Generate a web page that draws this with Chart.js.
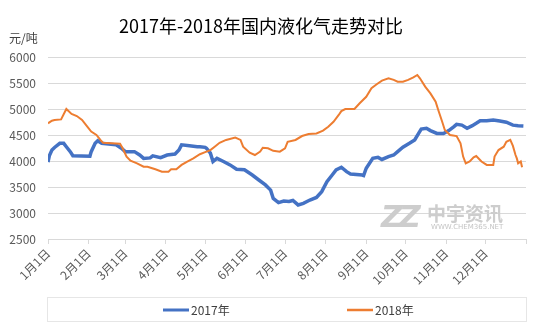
<!DOCTYPE html>
<html>
<head>
<meta charset="utf-8">
<script src="https://cdn.jsdelivr.net/npm/chart.js@4/dist/chart.umd.min.js"></script>
<style>
  html, body { margin: 0; padding: 0; background: #ffffff; }
  #wrap { position: relative; width: 554px; height: 332px; }
</style>
</head>
<body>
<div id="wrap"><canvas id="c" width="554" height="332"></canvas></div>
<script>
// LPG domestic price, yuan per tonne, sampled by day of year
const seriesNames = ['2017年', '2018年'];

const days2017 = [0, 1, 3, 5, 9, 12, 14, 17, 19, 32, 33, 36, 38, 41, 52, 56, 59, 66, 70, 73, 78, 80, 86, 91, 97, 100, 102, 108, 114, 116, 120, 121, 124, 126, 129, 134, 139, 144, 150, 156, 161, 166, 170, 172, 176, 180, 184, 187, 191, 195, 200, 205, 209, 213, 217, 220, 224, 228, 231, 240, 241, 243, 248, 252, 255, 260, 264, 267, 271, 276, 280, 283, 285, 289, 292, 297, 302, 306, 310, 312, 316, 320, 324, 327, 330, 335, 340, 345, 350, 355, 359, 363];
const price2017 = [3980, 4100, 4210, 4260, 4340, 4340, 4275, 4180, 4100, 4090, 4180, 4340, 4390, 4340, 4310, 4245, 4180, 4180, 4115, 4050, 4060, 4100, 4065, 4115, 4135, 4210, 4310, 4295, 4275, 4276, 4263, 4245, 4150, 3990, 4050, 3990, 3925, 3840, 3830, 3730, 3635, 3540, 3440, 3280, 3200, 3230, 3220, 3240, 3155, 3185, 3250, 3300, 3410, 3600, 3730, 3830, 3880, 3795, 3750, 3730, 3720, 3860, 4050, 4070, 4030, 4085, 4115, 4180, 4265, 4340, 4405, 4530, 4615, 4630, 4585, 4530, 4530, 4585, 4660, 4705, 4690, 4630, 4680, 4725, 4775, 4775, 4790, 4770, 4745, 4690, 4680, 4675];

const days2018 = [0, 3, 5, 10, 14, 18, 22, 26, 30, 33, 37, 40, 42, 55, 57, 60, 63, 68, 73, 76, 82, 87, 92, 94, 98, 102, 106, 111, 116, 120, 124, 128, 131, 136, 143, 147, 149, 154, 158, 162, 164, 168, 172, 177, 181, 183, 189, 194, 199, 205, 210, 214, 218, 222, 224, 227, 231, 234, 238, 243, 247, 251, 255, 260, 264, 267, 271, 275, 279, 282, 284, 288, 292, 296, 298, 301, 303, 307, 312, 315, 317, 319, 322, 325, 327, 331, 335, 340, 341, 344, 348, 350, 353, 355, 357, 358, 359, 361, 362];
const price2018 = [4725, 4775, 4790, 4800, 5000, 4905, 4865, 4790, 4660, 4565, 4500, 4405, 4350, 4330, 4245, 4085, 4005, 3955, 3890, 3890, 3840, 3795, 3795, 3840, 3840, 3925, 3985, 4050, 4130, 4170, 4210, 4290, 4350, 4405, 4450, 4405, 4275, 4160, 4115, 4180, 4255, 4245, 4195, 4180, 4245, 4370, 4405, 4480, 4520, 4530, 4585, 4660, 4755, 4885, 4960, 5000, 5000, 5000, 5110, 5235, 5400, 5475, 5545, 5590, 5560, 5525, 5525, 5560, 5610, 5655, 5590, 5430, 5300, 5140, 4980, 4755, 4595, 4500, 4480, 4340, 4085, 3955, 3990, 4070, 4095, 3990, 3925, 3925, 4085, 4210, 4275, 4370, 4405, 4290, 4115, 4050, 3955, 3990, 3880];

// Month starts (day of year) and their axis labels
const monthStarts = [0, 31, 59, 90, 120, 151, 181, 212, 243, 273, 304, 334, 365];
const monthLabels = ['1月1日', '2月1日', '3月1日', '4月1日', '5月1日', '6月1日', '7月1日', '8月1日', '9月1日', '10月1日', '11月1日', '12月1日', ''];

const yTicks = [2500, 3000, 3500, 4000, 4500, 5000, 5500, 6000];

const FONT = '"Noto Sans CJK SC", "Noto Sans", sans-serif';
const colors = ['#4472C4', '#ED7D31'];

function toPoints(xs, ys) {
  return xs.map((d, i) => ({ x: d, y: ys[i] }));
}

// Title, unit label, watermark and legend drawn on the canvas
const decorations = {
  id: 'decorations',
  beforeDatasetsDraw(chart) {
    const ctx = chart.ctx;
    ctx.save();
    // watermark
    ctx.fillStyle = '#cdcdcd';
    ctx.font = 'italic 900 30px "DejaVu Sans", sans-serif';
    ctx.textBaseline = 'alphabetic';
    ctx.textAlign = 'left';
    ctx.fillText('Z', 381, 227);
    ctx.fillText('Z', 399, 227);
    ctx.font = 'bold 19px ' + FONT;
    ctx.fillText('中宇资讯', 427, 221);
    ctx.fillStyle = '#c4c4c4';
    ctx.font = '7px "DejaVu Sans", sans-serif';
    ctx.fillText('WWW.CHEM365.NET', 431, 229);
    ctx.restore();
  },
  afterDraw(chart) {
    const ctx = chart.ctx;
    const area = chart.chartArea;
    ctx.save();
    ctx.fillStyle = '#000000';
    ctx.textAlign = 'center';
    ctx.textBaseline = 'middle';
    ctx.font = '18px ' + FONT;
    ctx.fillText('2017年-2018年国内液化气走势对比', 261, 26);

    ctx.fillStyle = '#404040';
    ctx.textAlign = 'left';
    ctx.font = '12px ' + FONT;
    ctx.fillText('元/吨', 9, 38);

    // legend frame spanning the plot width
    ctx.strokeStyle = '#e6e6e6';
    ctx.lineWidth = 1;
    ctx.strokeRect(Math.round(area.left) - 0.5, 297.5, Math.round(area.right - area.left) + 1, 24);

    // legend items
    const items = [{ x: 163 }, { x: 347 }];
    chart.data.datasets.forEach((ds, i) => {
      const x = items[i].x;
      ctx.strokeStyle = ds.borderColor;
      ctx.lineWidth = i === 0 ? 3 : 2.5;
      ctx.beginPath();
      ctx.moveTo(x, 310);
      ctx.lineTo(x + 26, 310);
      ctx.stroke();
      ctx.fillStyle = '#404040';
      ctx.font = '12px ' + FONT;
      ctx.fillText(ds.label, x + 28, 310);
    });
    ctx.restore();
  }
};

new Chart(document.getElementById('c'), {
  type: 'line',
  data: {
    datasets: [
      {
        label: seriesNames[0],
        data: toPoints(days2017, price2017),
        borderColor: colors[0],
        backgroundColor: colors[0],
        borderWidth: 3.5,
        pointRadius: 0,
        tension: 0,
        order: 1
      },
      {
        label: seriesNames[1],
        data: toPoints(days2018, price2018),
        borderColor: colors[1],
        backgroundColor: colors[1],
        borderWidth: 2,
        pointRadius: 0,
        tension: 0,
        order: 0
      }
    ]
  },
  options: {
    responsive: false,
    animation: false,
    events: [],
    layout: { padding: { left: 0, right: 28, top: 57, bottom: 0 } },
    plugins: {
      legend: { display: false },
      title: { display: false },
      tooltip: { enabled: false }
    },
    scales: {
      x: {
        type: 'linear',
        min: 0,
        max: 365,
        afterBuildTicks(scale) {
          scale.ticks = monthStarts.map(v => ({ value: v }));
        },
        afterFit(scale) { scale.height = 93; },
        ticks: {
          autoSkip: false,
          maxRotation: 45,
          minRotation: 45,
          color: '#595959',
          font: { family: FONT, size: 12 },
          padding: 2,
          callback(value) {
            const i = monthStarts.indexOf(value);
            return i >= 0 ? monthLabels[i] : '';
          }
        },
        grid: {
          drawOnChartArea: false,
          drawTicks: true,
          tickLength: 5,
          color: '#d9d9d9'
        },
        border: { display: true, color: '#d9d9d9', width: 1 }
      },
      y: {
        min: 2500,
        max: 6000,
        afterBuildTicks(scale) {
          scale.ticks = yTicks.map(v => ({ value: v }));
        },
        afterFit(scale) { scale.width = 48; },
        ticks: {
          color: '#595959',
          font: { family: FONT, size: 12 },
          padding: 12,
          callback(value) { return String(value); }
        },
        grid: {
          drawTicks: false,
          color: '#d9d9d9',
          lineWidth: 1
        },
        border: { display: false }
      }
    }
  },
  plugins: [decorations]
});
</script>
</body>
</html>
